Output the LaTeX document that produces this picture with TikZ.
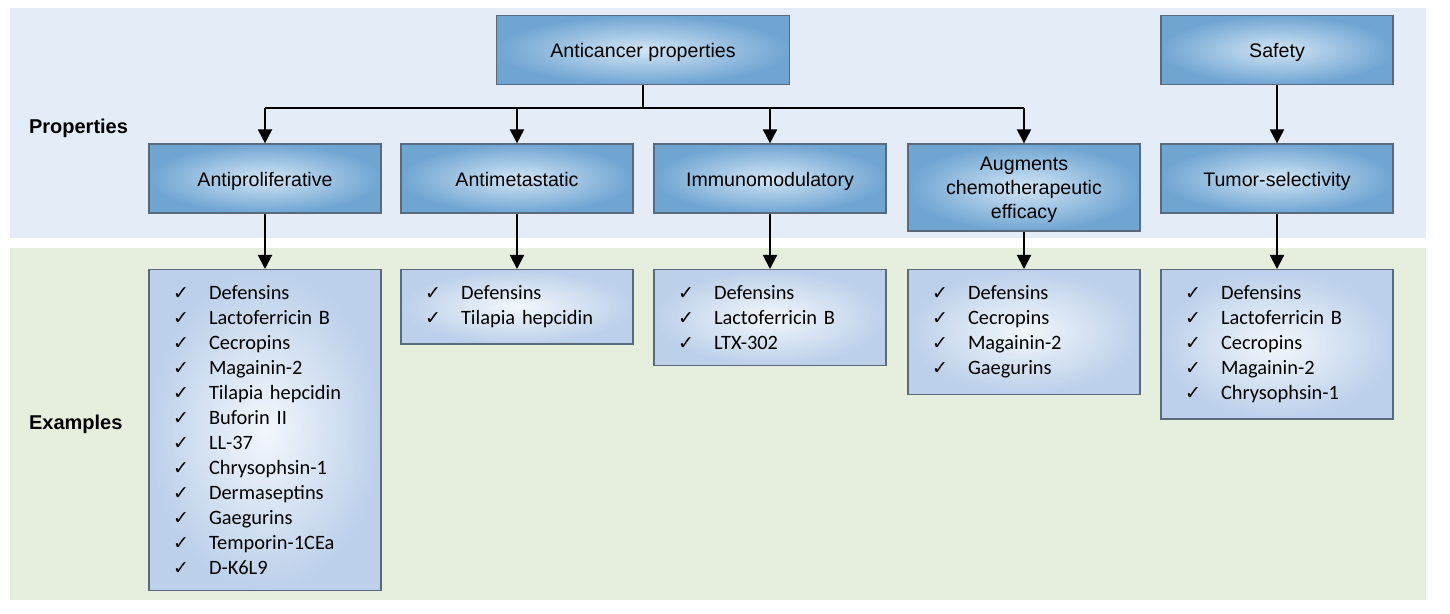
\documentclass[tikz,border=0pt]{standalone}
\usepackage{fontspec}
\setmainfont{Liberation Sans}
\newfontfamily\listfont{Carlito}
\newfontfamily\symfont{DejaVu Sans}
\usetikzlibrary{arrows.meta,positioning}
\definecolor{bandblue}{RGB}{228,237,247}
\definecolor{bandgreen}{RGB}{230,238,222}
\definecolor{boxin}{RGB}{210,229,245}
\definecolor{boxout}{RGB}{112,165,210}
\definecolor{lstin}{RGB}{243,247,252}
\definecolor{lstout}{RGB}{188,208,234}
\definecolor{boxline}{RGB}{88,106,124}
\newcommand{\ck}{\makebox[18pt][l]{\symfont\fontsize{9.5}{10}\selectfont ✓}}
\begin{document}
\begin{tikzpicture}[x=0.5pt,y=-0.5pt,font=\fontsize{9.8}{12}\selectfont,
 cat/.style={draw=boxline,line width=.6pt,inner color=boxin,outer color=boxout,minimum width=116pt,minimum height=34.5pt,align=center},
 one/.style={text height=8.8pt,text depth=1pt},
 lst/.style={draw=boxline,line width=.6pt,inner color=lstin,outer color=lstout,text width=92pt,inner xsep=12pt,inner ysep=8pt,anchor=north,align=left,font=\listfont\fontsize{10.2}{12.5}\selectfont},
 arr/.style={-{Triangle[width=7pt,length=7pt]},line width=1pt}]
\def\yp{178.5} \def\ye{269}
\useasboundingbox (0,0) rectangle (1450,614);
\fill[white] (0,0) rectangle (1450,614);
% bands
\fill[bandblue] (10,8) rectangle (1426,238);
\fill[bandgreen] (10,248) rectangle (1426,600);
\node[font=\bfseries,anchor=west] (props) at (22,128) {Properties};
\node[font=\bfseries,anchor=west] (exs) at (22,424) {Examples};
% properties
\node[cat,one,minimum width=146.5pt] (anti) at (643,50) {Anticancer properties};
\node[cat,one] (safe) at (1277,50) {Safety};
\foreach \n/\x/\t in {p1/265/Antiproliferative,p2/517/Antimetastatic,p3/770/Immunomodulatory,p5/1277/Tumor-selectivity}
  \node[cat,one] (\n) at (\x,\yp) {\t};
\node[cat,minimum height=43.5pt,text depth=0pt] (p4) at (1024,187.5) {Augments\\chemotherapeutic\\efficacy};
\draw[line width=1pt] (anti.south) -- ++(0,23) coordinate (j);
\draw[line width=1pt] (j -| p1) -- (j -| p4);
\foreach \n in {p1,p2,p3,p4}
  \draw[arr] (j -| \n) -- (\n.north);
\draw[arr] (safe.south) -- (p5.north);
% examples
\node[lst] (e1) at (265,\ye) {\ck Defensins\\ \ck Lactoferricin B\\ \ck Cecropins\\ \ck Magainin-2\\ \ck Tilapia hepcidin\\ \ck Buforin II\\ \ck LL-37\\ \ck Chrysophsin-1\\ \ck Dermaseptins\\ \ck Gaegurins\\ \ck Temporin-1CEa\\ \ck D-K6L9};
\node[lst] (e2) at (517,\ye) {\ck Defensins\\ \ck Tilapia hepcidin};
\node[lst] (e3) at (770,\ye) {\ck Defensins\\ \ck Lactoferricin B\\ \ck LTX-302};
\node[lst] (e4) at (1024,\ye) {\ck Defensins\\ \ck Cecropins\\ \ck Magainin-2\\ \ck Gaegurins};
\node[lst] (e5) at (1277,\ye) {\ck Defensins\\ \ck Lactoferricin B\\ \ck Cecropins\\ \ck Magainin-2\\ \ck Chrysophsin-1};
\foreach \n in {1,...,5}
  \draw[arr] (p\n.south) -- (e\n.north);
\end{tikzpicture}
\end{document}
